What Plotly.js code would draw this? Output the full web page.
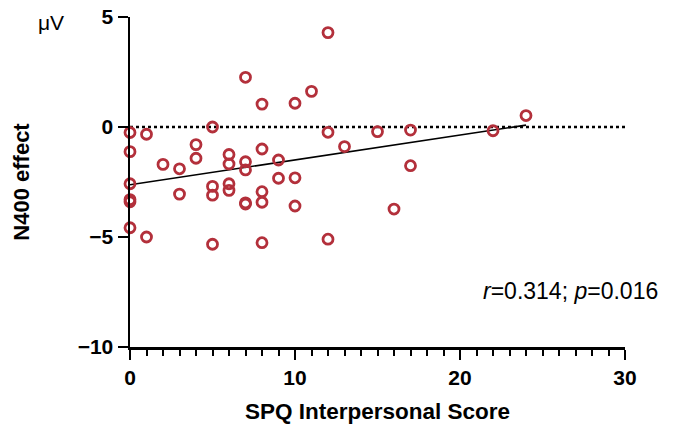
<!DOCTYPE html>
<html>
<head>
<meta charset="utf-8">
<script src="https://cdn.plot.ly/plotly-3.0.1.min.js"></script>
<style>html,body{margin:0;padding:0;background:#fff;}#chart{width:685px;height:435px;}</style>
</head>
<body>
<div id="chart"></div>
<script>
// SPQ Interpersonal score (x) and N400 effect in µV (y), one entry per participant
const spqScore = [
  0, 0, 0, 0, 0, 0,
  1, 1,
  2,
  3, 3,
  4, 4,
  5, 5, 5, 5,
  6, 6, 6, 6,
  7, 7, 7, 7, 7,
  8, 8, 8, 8, 8,
  9, 9,
  10, 10, 10,
  11,
  12, 12, 12,
  13,
  15,
  16,
  17, 17,
  22,
  24
];
const n400Effect = [
  -0.25, -1.12, -2.58, -3.3, -3.4, -4.58,
  -0.33, -5.0,
  -1.7,
  -1.9, -3.05,
  -0.8, -1.42,
  0.0, -2.7, -3.1, -5.33,
  -1.25, -1.68, -2.58, -2.88,
  2.26, -1.58, -1.95, -3.45, -3.5,
  1.04, -1.0, -2.94, -3.42, -5.26,
  -1.5, -2.33,
  1.08, -2.31, -3.59,
  1.62,
  4.29, -0.24, -5.1,
  -0.89,
  -0.21,
  -3.73,
  -0.14, -1.76,
  -0.17,
  0.52
];
const xTicks = [0, 10, 20, 30];
const xTickLabels = ['0', '10', '20', '30'];
const yTicks = [-10, -5, 0, 5];
const yTickLabels = ['\u221210', '\u22125', '0', '5'];
const statText = '<i>r</i>=0.314; <i>p</i>=0.016';

// least-squares fit from the data
const n = spqScore.length;
const mx = spqScore.reduce((a, b) => a + b, 0) / n;
const my = n400Effect.reduce((a, b) => a + b, 0) / n;
let sxy = 0, sxx = 0;
for (let i = 0; i < n; i++) {
  sxy += (spqScore[i] - mx) * (n400Effect[i] - my);
  sxx += (spqScore[i] - mx) ** 2;
}
const slope = sxy / sxx;
const intercept = my - slope * mx;
const fitX = [Math.min(...spqScore), Math.max(...spqScore)];
const fitY = fitX.map(v => intercept + slope * v);

const font = 'Liberation Sans, Arial, Helvetica, sans-serif';
const red = '#B3303B';

const traces = [
  {
    x: fitX, y: fitY, type: 'scatter', mode: 'lines',
    line: {color: '#000', width: 1.6}, hoverinfo: 'skip', showlegend: false
  },
  {
    x: spqScore, y: n400Effect, type: 'scatter', mode: 'markers',
    marker: {symbol: 'circle-open', size: 10, color: red, line: {color: red, width: 2.8}},
    cliponaxis: false, showlegend: false
  }
];

const layout = {
  width: 685, height: 435,
  margin: {l: 130, r: 60, t: 17, b: 88},
  paper_bgcolor: '#fff', plot_bgcolor: '#fff',
  font: {family: font, color: '#000'},
  showlegend: false,
  xaxis: {
    range: [0, 30], tickvals: xTicks, ticktext: xTickLabels,
    showgrid: false, zeroline: false,
    showline: true, linecolor: '#000', linewidth: 2.5,
    ticks: 'outside', ticklen: 10, tickwidth: 2.5, tickcolor: '#000',
    minor: {dtick: 1, tick0: 0, ticks: 'outside', ticklen: 6, tickwidth: 2, tickcolor: '#000', showgrid: false},
    tickfont: {family: font, size: 21, color: '#000', weight: 'bold'},
    title: {text: '<b>SPQ Interpersonal Score</b>', font: {family: font, size: 22.5, color: '#000'}, standoff: 16}
  },
  yaxis: {
    range: [-10, 5], tickvals: yTicks, ticktext: yTickLabels,
    showgrid: false, zeroline: false,
    showline: true, linecolor: '#000', linewidth: 2.5,
    ticks: 'outside', ticklen: 10, tickwidth: 2.5, tickcolor: '#000',
    tickfont: {family: font, size: 21, color: '#000', weight: 'bold'},
    title: {text: '<b>N400 effect</b>', font: {family: font, size: 22, color: '#000'}, standoff: 42}
  },
  shapes: [
    {type: 'line', xref: 'paper', yref: 'y', x0: 0, x1: 1, y0: 0, y1: 0,
     line: {color: '#000', width: 2.5, dash: 'dot'}, layer: 'below'}
  ],
  annotations: [
    {xref: 'paper', yref: 'paper', x: -0.160, y: 0.982, text: 'μV', showarrow: false,
     font: {family: font, size: 21, color: '#000'}, xanchor: 'center', yanchor: 'middle'},
    {xref: 'paper', yref: 'y', x: 1.07, y: -7.45, text: statText, showarrow: false,
     font: {family: font, size: 23, color: '#000'}, xanchor: 'right', yanchor: 'middle'}
  ]
};

Plotly.newPlot('chart', traces, layout, {staticPlot: true, displayModeBar: false});
</script>
</body>
</html>
